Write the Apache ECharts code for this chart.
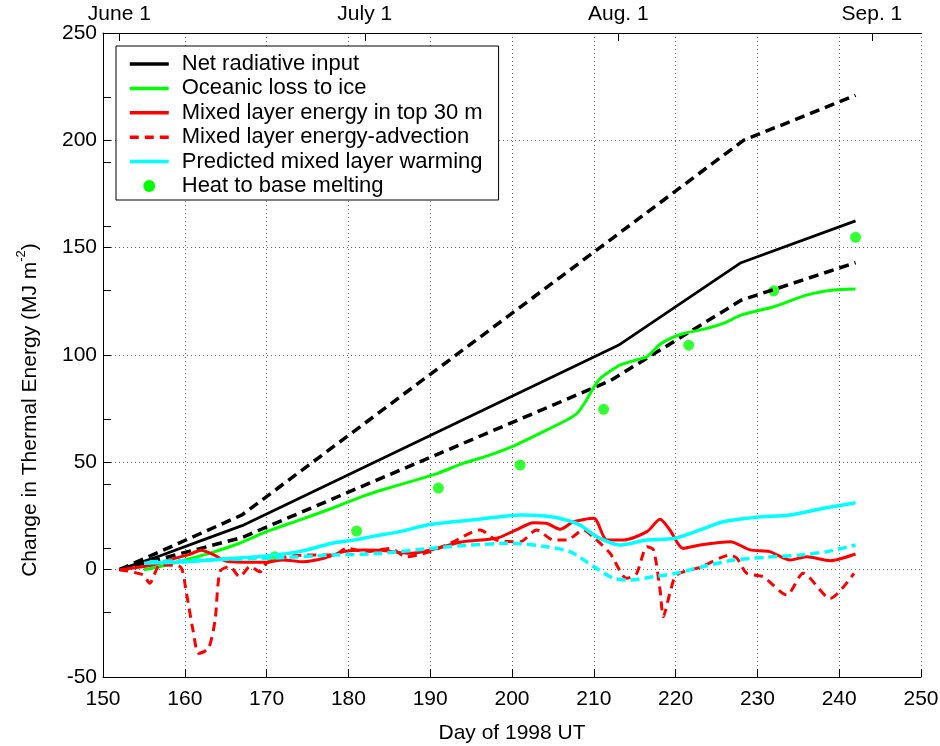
<!DOCTYPE html>
<html>
<head>
<meta charset="utf-8">
<script src="https://cdn.jsdelivr.net/npm/echarts@6/dist/echarts.min.js"></script>
<style>
html,body{margin:0;padding:0;background:#fff;}
#c{width:940px;height:746px;}
</style>
</head>
<body>
<div id="c"></div>
<script>
// ---- data (day of 1998, MJ m^-2) ----
const netRadDays = [152, 157, 162, 167, 213, 228, 242];
const netRadVals = [0, 6.5, 13.5, 20.5, 104.5, 143, 162.5];

const upperDays = [152, 167, 228.3, 242];
const upperVals = [0, 25.5, 200, 221];

const lowerDays = [152, 167, 212, 228, 242];
const lowerVals = [0, 15, 88, 125.5, 143];

const oceanDays = [155, 157, 160, 163, 166.7, 170, 174, 178, 182, 184, 188, 191, 194, 197, 200, 203.4, 206.7, 208, 209.1, 210, 210.8, 212, 213.2, 215, 216.5, 218.1, 219.5, 221, 223.8, 226, 228, 232, 236, 239.3, 242];
const oceanVals = [0, 1.5, 4.5, 7.6, 12.3, 17.7, 23.1, 28.6, 34.5, 37, 41.5, 45, 49.5, 53, 57.3, 63.5, 69.7, 73, 79, 85, 89.1, 92.5, 95.3, 97.5, 99.2, 105, 108, 110, 112.4, 115, 118.6, 122.5, 127.9, 130.3, 130.8];

const mixedDays = [152, 155, 157, 159, 160.5, 162, 163.5, 165, 167, 170, 172, 174.5, 177, 179.4, 181.8, 184, 187.5, 190, 194, 198.1, 200.5, 202.6, 204.2, 205.9, 207.5, 210, 211.6, 213.6, 216.5, 218.1, 219.3, 220.9, 223, 226.7, 229.1, 231.5, 234, 236, 238.9, 242];
const mixedVals = [0, 1.5, 3.1, 5.5, 7, 9, 7, 4, 3.5, 3.5, 4.5, 3.7, 5.3, 8.4, 9.2, 9, 7.6, 9.2, 13, 14.6, 18.5, 21.9, 21.6, 18.8, 22.3, 23.9, 13.8, 13.8, 17.7, 23.5, 18.5, 9.9, 11.5, 13, 9.2, 8.4, 4.5, 6, 4.2, 7.3];

const advDays = [152, 154.9, 155.7, 157, 159.4, 160.2, 161, 161.7, 162.9, 163.7, 164.3, 165.5, 166.7, 168, 169.2, 170, 172.4, 174.9, 178.2, 179.8, 182.2, 185.1, 187.1, 190, 192.8, 196.1, 198.1, 201, 203, 205.1, 206.7, 208.7, 209.9, 212, 214, 215.2, 216.5, 217.3, 218.1, 218.5, 219.3, 220.1, 223, 226.7, 227.5, 228.7, 230.7, 233.6, 235.6, 238.9, 241.8];
const advVals = [0, -2.4, -6.3, 2.2, 1.5, -11, -28.1, -39, -36.6, -23.5, -1, 1.5, -3.3, 1.5, -1, 3, 6, 6.8, 6.8, 9.9, 8.4, 9.9, 6, 8.4, 13, 18.5, 13.8, 13, 18.5, 13.8, 13.8, 18.5, 15.3, 7.6, -4, -2, 10.7, 9.2, -9.5, -21.9, -11, -2.5, 1.1, 6.8, 5.3, -1.7, -3.3, -11.8, -1.7, -13.4, -1.7];

const predDays = [155, 160, 166, 170, 174, 178, 181, 183, 186, 190, 196, 201, 204, 206.3, 208.3, 210.4, 213.2, 216.5, 219.8, 223, 225.8, 229.9, 234, 238.1, 242];
const predVals = [3, 3.7, 5.3, 6.4, 8.4, 12.3, 14, 15.5, 17.5, 21, 23.5, 25.5, 25, 23.5, 20.8, 15.3, 11.5, 13.8, 14.5, 18.5, 22.3, 24.4, 25.5, 28.6, 31.2];

const pred2Days = [155.7, 162, 170, 178, 184, 190, 195, 200, 204.2, 207.1, 210, 212.4, 214.4, 217.3, 220, 223, 227.1, 231.1, 235.2, 238.5, 242];
const pred2Vals = [3.7, 4.5, 5.3, 6.8, 7.6, 9.9, 11.5, 12.3, 10.7, 8.4, 1.4, -4, -4.8, -3.3, -1.7, 1.1, 4.5, 5.8, 6.8, 8.4, 11.5];

const meltDays = [171, 181, 191, 201, 211.2, 221.6, 232, 242];
const meltVals = [6, 18, 38, 48.7, 74.7, 104.6, 129.9, 154.8];

const monthTicks = [152, 182, 213, 244];
const monthLabels = ['June 1', 'July 1', 'Aug. 1', 'Sep. 1'];
const extraYTicks = [-20, 10, 40, 70, 100, 130, 160, 190, 220];

const legendNames = ['Net radiative input', 'Oceanic loss to ice', 'Mixed layer energy in top 30 m',
  'Mixed layer energy-advection', 'Predicted mixed layer warming', 'Heat to base melting'];

// ---- build ----
const zip = (a, b) => a.map((d, i) => [d, b[i]]);
const FONT = '"Liberation Sans", Arial, sans-serif';

function lineSeries(name, days, vals, color, width, type, smooth) {
  return {
    name: name, type: 'line', data: zip(days, vals),
    xAxisIndex: 0, yAxisIndex: 0,
    symbol: 'none', showSymbol: false, smooth: smooth || false,
    lineStyle: { color: color, width: width, type: type || 'solid' },
    itemStyle: { color: color },
    emphasis: { disabled: true }
  };
}

const legendData = legendNames.map(function (n) {
  return n === 'Heat to base melting'
    ? { name: n, itemStyle: { opacity: 1 } }
    : { name: n, itemStyle: { opacity: 0 }, lineStyle: { width: 3.5 } };
});

const chart = echarts.init(document.getElementById('c'), null, { renderer: 'canvas' });
chart.setOption({
  animation: false,
  backgroundColor: '#fff',
  textStyle: { fontFamily: FONT },
  grid: { left: 103, right: 19, top: 33, bottom: 69, containLabel: false, outerBoundsMode: 'none' },
  legend: {
    data: legendData,
    orient: 'vertical',
    left: 116, top: 46,
    padding: [7, 16, 3, 12],
    itemWidth: 39, itemHeight: 12, itemGap: 2.4,
    borderColor: '#000', borderWidth: 1,
    backgroundColor: '#fff',
    selectedMode: false,
    textStyle: { fontSize: 22, color: '#000', fontFamily: FONT, padding: [0, 0, 0, 8] }
  },
  xAxis: [{
    type: 'value', min: 150, max: 250, interval: 10,
    position: 'bottom',
    name: 'Day of 1998 UT', nameLocation: 'middle', nameGap: 46,
    nameTextStyle: { fontSize: 21, color: '#000' },
    axisLine: { show: true, onZero: false, lineStyle: { color: '#000', width: 1 } },
    axisTick: { show: true, inside: true, length: 8, lineStyle: { color: '#000' } },
    axisLabel: { fontSize: 21, color: '#000', margin: 12 },
    splitLine: { show: true, lineStyle: { color: '#666', width: 1, type: [1, 3] } }
  }, {
    type: 'value', min: 150, max: 250,
    position: 'top',
    axisLine: { show: true, onZero: false, lineStyle: { color: '#000', width: 1 } },
    axisTick: { show: true, inside: true, length: 8, customValues: monthTicks, lineStyle: { color: '#000' } },
    axisLabel: {
      show: true, fontSize: 21, color: '#000', margin: 8,
      customValues: monthTicks,
      formatter: function (v) { const i = monthTicks.indexOf(v); return i >= 0 ? monthLabels[i] : ''; }
    },
    splitLine: { show: false }
  }],
  yAxis: [{
    type: 'value', min: -50, max: 250, interval: 50,
    position: 'left',
    name: '{a|Change in Thermal Energy (MJ m}{s|-2}{a|)}',
    nameLocation: 'middle', nameGap: 62,
    nameTextStyle: {
      color: '#000',
      padding: [0, 110, 0, 0],
      rich: {
        a: { fontSize: 21, fontFamily: FONT, color: '#000', lineHeight: 26, verticalAlign: 'bottom' },
        s: { fontSize: 13, fontFamily: FONT, color: '#000', lineHeight: 14, verticalAlign: 'top' }
      }
    },
    axisLine: { show: true, onZero: false, lineStyle: { color: '#000', width: 1 } },
    axisTick: { show: true, inside: true, length: 8, lineStyle: { color: '#000' } },
    axisLabel: { fontSize: 21, color: '#000', margin: 6 },
    splitLine: { show: true, lineStyle: { color: '#666', width: 1, type: [1, 3] } }
  }, {
    type: 'value', min: -50, max: 250,
    position: 'left',
    axisLine: { show: false },
    axisTick: { show: true, inside: true, length: 8, customValues: extraYTicks, lineStyle: { color: '#000' } },
    axisLabel: { show: false },
    splitLine: { show: false }
  }],
  series: [
    lineSeries('Net radiative input', netRadDays, netRadVals, '#000000', 2.8),
    lineSeries('upper estimate', upperDays, upperVals, '#000000', 3.5, [10, 6]),
    lineSeries('lower estimate', lowerDays, lowerVals, '#000000', 3.5, [10, 6]),
    lineSeries('Oceanic loss to ice', oceanDays, oceanVals, '#00ff00', 3, 'solid', 0.25),
    lineSeries('Mixed layer energy in top 30 m', mixedDays, mixedVals, '#ff0000', 3, 'solid', 0.25),
    lineSeries('Mixed layer energy-advection', advDays, advVals, '#ff0000', 3, [9, 6], 0.25),
    lineSeries('Predicted mixed layer warming', predDays, predVals, '#00ffff', 3.5, 'solid', 0.25),
    lineSeries('predicted (dashed)', pred2Days, pred2Vals, '#00ffff', 3.5, [9, 5], 0.25),
    {
      name: 'Heat to base melting', type: 'scatter', data: zip(meltDays, meltVals),
      xAxisIndex: 0, yAxisIndex: 0,
      symbol: 'circle', symbolSize: 11,
      itemStyle: { color: '#00ff00' },
      emphasis: { disabled: true }
    }
  ]
});
</script>
</body>
</html>
